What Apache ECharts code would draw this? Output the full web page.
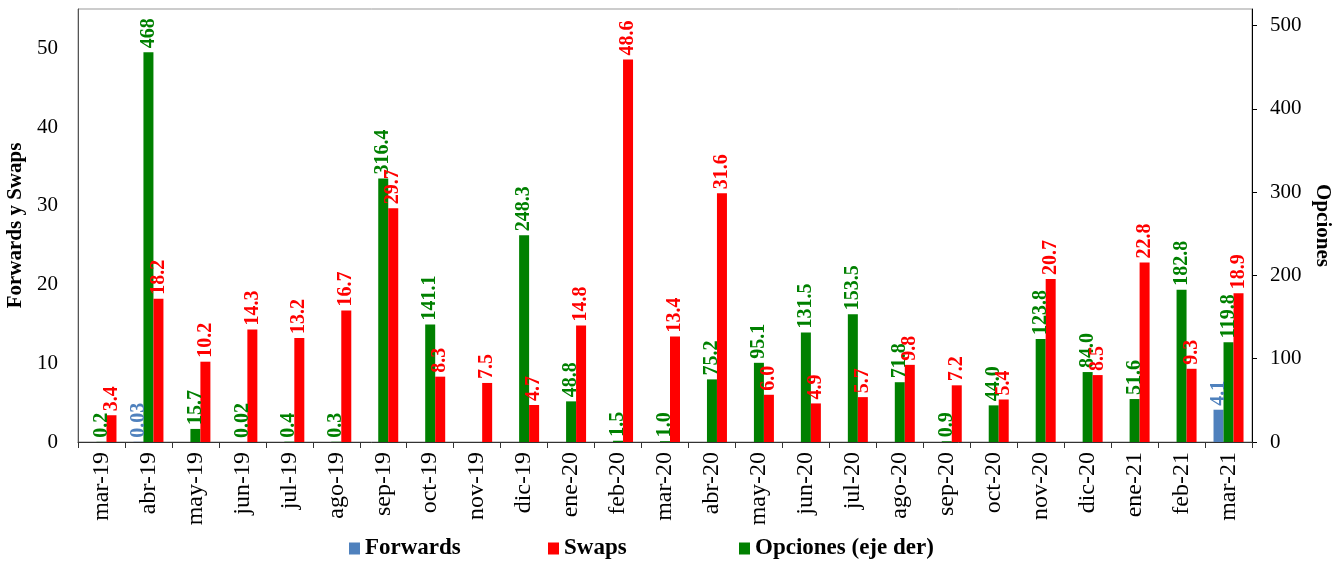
<!DOCTYPE html>
<html><head><meta charset="utf-8">
<script src="https://cdn.jsdelivr.net/npm/echarts@6/dist/echarts.min.js"></script>
<style>html,body{margin:0;padding:0;background:#fff}#c{width:1340px;height:561px}</style>
</head><body><div id="c"></div>
<script>
const categories = ["mar-19","abr-19","may-19","jun-19","jul-19","ago-19","sep-19","oct-19","nov-19","dic-19","ene-20","feb-20","mar-20","abr-20","may-20","jun-20","jul-20","ago-20","sep-20","oct-20","nov-20","dic-20","ene-21","feb-21","mar-21"];
const forwards = [null,0.03,null,null,null,null,null,null,null,null,null,null,null,null,null,null,null,null,null,null,null,null,null,null,4.1];
const swaps = [3.4,18.2,10.2,14.3,13.2,16.7,29.7,8.3,7.5,4.7,14.8,48.6,13.4,31.6,6.0,4.9,5.7,9.8,7.2,5.4,20.7,8.5,22.8,9.3,18.9];
const opciones = [0.2,468,15.7,0.02,0.4,0.3,316.4,141.1,null,248.3,48.8,1.5,1.0,75.2,95.1,131.5,153.5,71.8,0.9,44.0,123.8,84.0,51.6,182.8,119.8];
const leftTicks = [0,10,20,30,40,50];
const rightTicks = [0,100,200,300,400,500];

const FONT = '"Liberation Serif", "Times New Roman", serif';
function lbl(color, texts){
  return {show:true, position:'top', rotate:90, align:'left', verticalAlign:'middle', distance:4,
    color:color, fontFamily:FONT, fontWeight:'bold', fontSize:20,
    formatter:p => p.value==null ? '' : (texts[p.dataIndex] || String(p.value))};
}
const fwdTxt = forwards.map(v => v==null ? '' : (v<1 ? v.toFixed(2) : v.toFixed(1)));
const swpTxt = swaps.map(v => v.toFixed(1));
const opcTxt = opciones.map(v => v==null ? '' : (v===468 ? '468' : (v<0.1 ? v.toFixed(2) : v.toFixed(1))));

const LEG = {fontFamily:FONT, fontWeight:'bold', fontSize:23, color:'#000'};
const chart = echarts.init(document.getElementById('c'));
chart.setOption({
  animation:false,
  textStyle:{fontFamily:FONT},
  grid:{left:78, right:88, top:9, bottom:119, show:true, borderColor:'#999', borderWidth:1,
    containLabel:false, outerBoundsMode:'none'},
  legend:[
    {data:['Forwards'], left:344, top:532, itemWidth:11, itemHeight:12, icon:'rect', textStyle:LEG},
    {data:['Swaps'], left:543, top:532, itemWidth:11, itemHeight:12, icon:'rect', textStyle:LEG},
    {data:['Opciones (eje der)'], left:734, top:532, itemWidth:11, itemHeight:12, icon:'rect', textStyle:LEG}
  ],
  xAxis:{type:'category', data:categories,
    axisLine:{lineStyle:{color:'#333'}},
    axisTick:{show:true, length:6, lineStyle:{color:'#333'}},
    axisLabel:{rotate:90, fontSize:24, color:'#000', fontFamily:FONT, margin:10, interval:0}},
  yAxis:[
    {type:'value', min:0, max:55, interval:10, position:'left',
      name:'Forwards y Swaps', nameLocation:'middle', nameGap:47, nameRotate:90,
      nameTextStyle:{fontFamily:FONT, fontWeight:'bold', fontSize:21, color:'#000'},
      axisLine:{show:true, lineStyle:{color:'#555'}}, axisTick:{show:false}, splitLine:{show:false},
      axisLabel:{fontSize:21, color:'#000', fontFamily:FONT, margin:20, showMaxLabel:false,
        formatter:v => leftTicks.includes(v) ? String(v) : ''}},
    {type:'value', min:0, max:520, interval:100, position:'right',
      name:'Opciones', nameLocation:'middle', nameGap:55, nameRotate:-90,
      nameTextStyle:{fontFamily:FONT, fontWeight:'bold', fontSize:21, color:'#000'},
      axisLine:{show:true, lineStyle:{color:'#000'}}, axisTick:{show:true, length:5, lineStyle:{color:'#000'}}, splitLine:{show:false},
      axisLabel:{fontSize:21, color:'#000', fontFamily:FONT, margin:18, showMaxLabel:false,
        formatter:v => rightTicks.includes(v) ? String(v) : ''}}
  ],
  series:[
    {name:'Forwards', type:'bar', yAxisIndex:0, data:forwards, barWidth:10, barGap:'0%',
      itemStyle:{color:'#4F81BD'}, label:lbl('#4F81BD', fwdTxt)},
    {name:'Opciones (eje der)', type:'bar', yAxisIndex:1, data:opciones, barWidth:10, barGap:'0%',
      itemStyle:{color:'#008000'}, label:lbl('#008000', opcTxt)},
    {name:'Swaps', type:'bar', yAxisIndex:0, data:swaps, barWidth:10, barGap:'0%',
      itemStyle:{color:'#FF0000'}, label:lbl('#FF0000', swpTxt)}
  ]
});
</script></body></html>
